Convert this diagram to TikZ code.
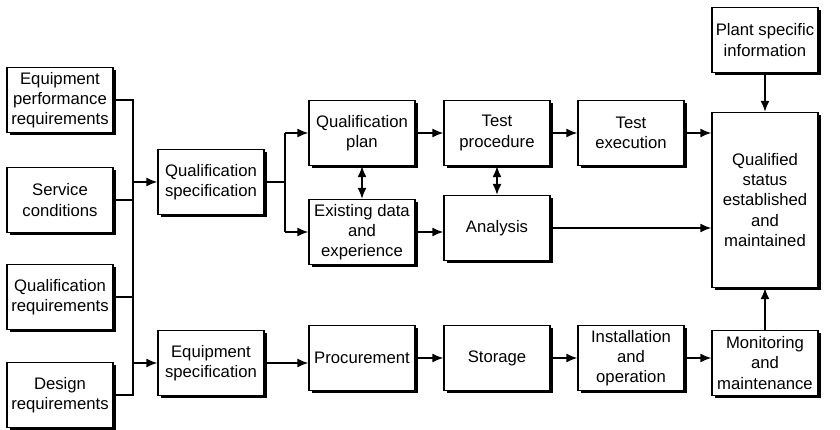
\documentclass[tikz,border=0pt]{standalone}
\usepackage{fontspec}
\setmainfont{Liberation Sans}
\usetikzlibrary{arrows.meta,positioning,shadows}

\begin{document}
\begin{tikzpicture}[x=0.02cm,y=-0.02cm,
    box/.style={draw, thick, fill=white, align=center, inner sep=1pt,
      minimum width=2.12cm, minimum height=1.3cm,
      font=\fontsize{9.5}{11.5}\selectfont,
      drop shadow={shadow xshift=1.6pt, shadow yshift=-1.6pt, fill=black, opacity=1}},
    arr/.style={thick, -{Latex[length=2.2mm,width=1.8mm]}},
    dbl/.style={thick, {Latex[length=2.2mm,width=1.8mm]}-{Latex[length=2.2mm,width=1.8mm]}},
    ln/.style={thick}]
\useasboundingbox (0,0) rectangle (840,430);

% left inputs
\node[box] (perf) at (60,100) {Equipment\\performance\\requirements};
\node[box] (serv) at (60,200) {Service\\conditions};
\node[box] (qreq) at (60,297) {Qualification\\requirements};
\node[box] (dreq) at (60,395) {Design\\requirements};

% specifications
\node[box] (qspec) at (211,182) {Qualification\\specification};
\node[box] (espec) at (211,363) {Equipment\\specification};

% upper branch
\node[box] (qplan) at (362,133) {Qualification\\plan};
\node[box] (exist) at (362,232) {Existing data\\and\\experience};
\node[box] (tproc) at (497,133) {Test\\procedure};
\node[box] (anal)  at (497,228) {Analysis};
\node[box] (texec) at (631,133) {Test\\execution};

% right column
\node[box, minimum height=3.5cm] (status) at (765,200) {Qualified\\status\\established\\and\\maintained};
\node[box] (plant) at (765,40) {Plant specific\\information};

% lower branch
\node[box] (proc)  at (362,358) {Procurement};
\node[box] (stor)  at (497,358) {Storage};
\node[box] (inst)  at (631,358) {Installation\\and\\operation};
\node[box] (moni)  at (765,363) {Monitoring\\and\\maintenance};

% bus
\coordinate (bus) at (133,0);
\draw[ln] (perf.east) -- (perf.east -| bus) -- (dreq.east -| bus) -- (dreq.east);
\draw[ln] (serv.east) -- (serv.east -| bus);
\draw[ln] (qreq.east) -- (qreq.east -| bus);
\draw[arr] (qspec.west -| bus) -- (qspec.west);
\draw[arr] (espec.west -| bus) -- (espec.west);

% split after qualification specification
\coordinate (split) at (285,0);
\draw[ln] (qspec.east) -- (qspec.east -| split);
\draw[arr] (qplan.west -| split) -- (qplan.west);
\draw[arr] (exist.west -| split) -- (exist.west);
\draw[ln] (qplan.west -| split) -- (exist.west -| split);

\draw[dbl] (qplan) -- (exist);
\draw[dbl] (tproc) -- (anal);
\draw[arr] (qplan) -- (tproc);
\draw[arr] (tproc) -- (texec);
\draw[arr] (texec.east) -- (texec.east -| status.west);
\draw[arr] (exist.east) -- (exist.east -| anal.west);
\draw[arr] (anal.east) -- (anal.east -| status.west);
\draw[arr] (plant) -- (status);

\draw[arr] (espec) -- (espec -| proc.west);
\draw[arr] (proc) -- (stor);
\draw[arr] (stor) -- (inst);
\draw[arr] (inst.east) -- (inst.east -| moni.west);
\draw[arr] (moni) -- (status);
\end{tikzpicture}
\end{document}
